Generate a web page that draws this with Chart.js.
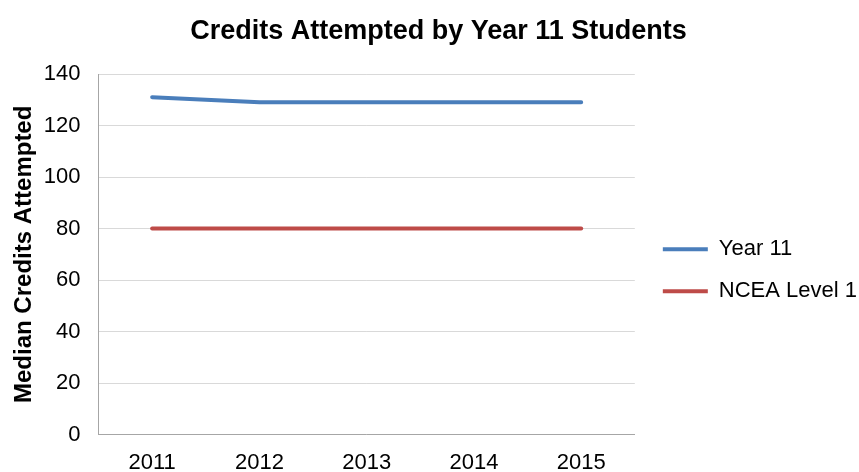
<!DOCTYPE html>
<html>
<head>
<meta charset="utf-8">
<script src="https://cdn.jsdelivr.net/npm/chart.js@4"></script>
<style>
html,body{margin:0;padding:0;background:#fff;}
#wrap{width:859px;height:472px;}
</style>
</head>
<body>
<div id="wrap"><canvas id="c"></canvas></div>
<script>
const categories = ['2011', '2012', '2013', '2014', '2015'];
const year11 = [131, 129, 129, 129, 129];
const ncea1 = [80, 80, 80, 80, 80];
const yTicks = [0, 20, 40, 60, 80, 100, 120, 140];

const FONT = "'Liberation Sans', Arial, sans-serif";

new Chart(document.getElementById('c'), {
  type: 'line',
  data: {
    labels: categories,
    datasets: [
      { label: 'Year 11', data: year11, borderColor: '#4a7ebb', backgroundColor: '#4a7ebb',
        borderWidth: 4, pointRadius: 0, tension: 0, borderCapStyle: 'round' },
      { label: 'NCEA Level 1', data: ncea1, borderColor: '#be4b48', backgroundColor: '#be4b48',
        borderWidth: 4, pointRadius: 0, tension: 0, borderCapStyle: 'round' }
    ]
  },
  options: {
    responsive: true,
    maintainAspectRatio: false,
    animation: false,
    devicePixelRatio: 1,
    layout: { padding: { left: 10, right: -8, top: 0, bottom: -19 } },
    plugins: {
      title: {
        display: true,
        text: 'Credits Attempted by Year 11 Students',
        color: '#000',
        font: { family: FONT, size: 27, weight: 'bold' },
        padding: { top: 15, bottom: 26.6 }
      },
      legend: {
        position: 'right',
        fullSize: false,
        maxWidth: 400,
        title: { display: true, text: ' ', font: { family: FONT, size: 10 }, padding: { top: 10, bottom: 10 } },
        labels: {
          color: '#000',
          font: { family: FONT, size: 22 },
          boxWidth: 45,
          boxHeight: 4,
          padding: 20,
          generateLabels: (chart) => chart.data.datasets.map((ds, i) => ({
            text: ds.label, fillStyle: ds.borderColor, strokeStyle: ds.borderColor,
            lineWidth: 0, hidden: false, datasetIndex: i, fontColor: '#000'
          }))
        }
      },
      tooltip: { enabled: false }
    },
    scales: {
      x: {
        offset: true,
        grid: { display: false, drawTicks: false },
        border: { display: true, color: '#a6a6a6', width: 1 },
        ticks: { color: '#000', font: { family: FONT, size: 22 }, padding: 15, maxRotation: 0 }
      },
      y: {
        min: 0, max: 140,
        afterBuildTicks: (s) => { s.ticks = yTicks.map(v => ({ value: v })); },
        grid: { color: '#d9d9d9', drawTicks: false, lineWidth: 1 },
        border: { display: true, color: '#a6a6a6', width: 1 },
        ticks: { color: '#000', font: { family: FONT, size: 22 }, padding: 18 },
        title: { display: true, text: 'Median Credits Attempted', color: '#000',
          font: { family: FONT, size: 24, weight: 'bold' }, padding: { top: 0, bottom: -13 } }
      },
      yPad: {
        position: 'right',
        display: true,
        grid: { display: false },
        border: { display: false },
        ticks: { display: false },
        afterFit: (s) => { s.width = 8; }
      }
    }
  }
});
</script>
</body>
</html>
